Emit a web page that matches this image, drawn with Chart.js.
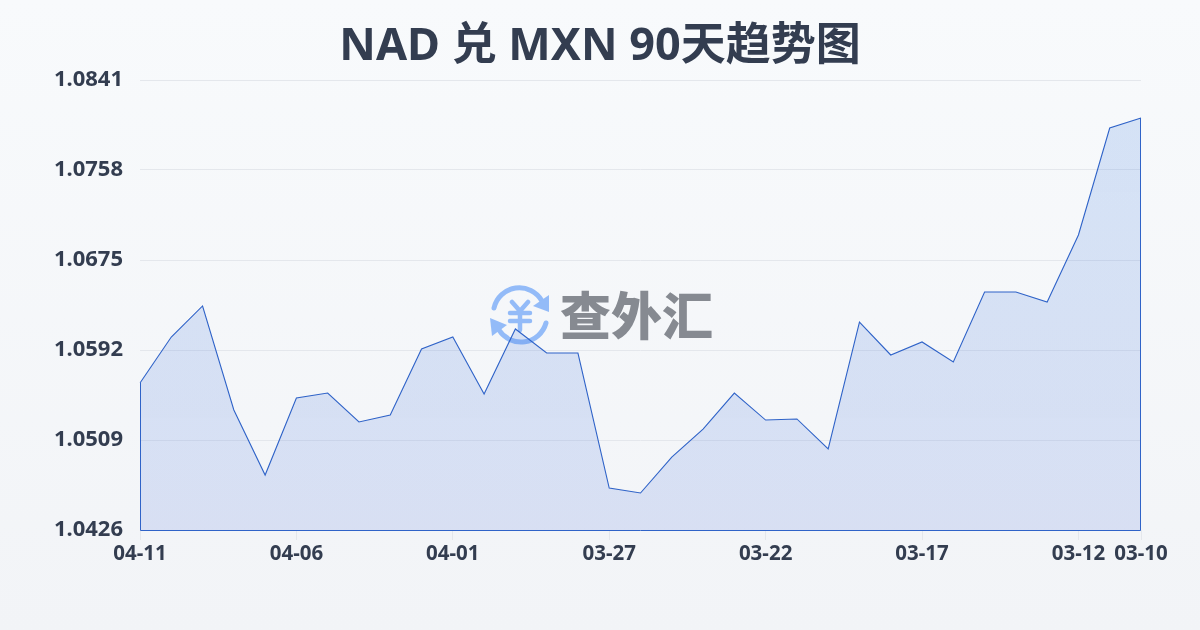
<!DOCTYPE html>
<html>
<head>
<meta charset="utf-8">
<title>NAD 兑 MXN 90天趋势图</title>
<script src="https://cdn.jsdelivr.net/npm/chart.js@4/dist/chart.umd.min.js"></script>
<style>
  html, body { margin: 0; padding: 0; }
  body { width: 1200px; height: 630px; overflow: hidden; position: relative; background: linear-gradient(180deg, #f8fafc 0%, #f2f4f7 100%); }
  #chart { position: absolute; left: 0; top: 0; }
  .mark { position: absolute; left: 488px; top: 283px; display: flex; align-items: center; }
  .mark span { font: 900 51px 'Noto Sans CJK SC', sans-serif; color: #868a91; margin-left: 8px; line-height: 64px; white-space: nowrap; position: relative; top: -2px; }
</style>
</head>
<body>
<div class="mark">
  <svg width="64" height="64" viewBox="-32 -32 64 64" fill="none" stroke="#93bbf8" stroke-width="5" stroke-linecap="round">
    <path d="M-26 -7 A26 26 0 0 1 22 -14"/>
    <path d="M26 8 A26 26 0 0 1 -21 15"/>
    <path d="M29 -20 L29 -3 L13 -9 Z" fill="#93bbf8" stroke="none"/>
    <path d="M-30 3 L-13 10 L-28 21 Z" fill="#93bbf8" stroke="none"/>
    <path d="M-8 -13 L0 -4 L8 -13 M-10 -2 L10 -2 M-10 6 L10 6 M0 -4 L0 15" stroke-width="4.5"/>
  </svg>
  <span>查外汇</span>
</div>
<canvas id="chart" width="1200" height="630"></canvas>
<script>
const dates = ['04-11','04-10','04-09','04-08','04-07','04-06','04-05','04-04','04-03','04-02','04-01',
  '03-31','03-30','03-29','03-28','03-27','03-26','03-25','03-24','03-23','03-22','03-21','03-20','03-19',
  '03-18','03-17','03-16','03-15','03-14','03-13','03-12','03-11','03-10'];
const rates = [1.05616,1.06040,1.06326,1.05367,1.04767,1.05477,1.05523,1.05256,1.05321,1.05929,1.06040,
  1.05514,1.06114,1.05892,1.05892,1.04647,1.04601,1.04933,1.05191,1.05523,1.05274,1.05284,1.05007,1.06178,
  1.05874,1.05994,1.05809,1.06455,1.06455,1.06363,1.06981,1.07967,1.08060];
const shownDates = ['04-11','04-06','04-01','03-27','03-22','03-17','03-12','03-10'];
const yTicks = [1.0426,1.0509,1.0592,1.0675,1.0758,1.0841];

const lineBlue = '#2f63c8';
const textDark = '#333d50';
const gridGrey = '#e4e7ec';
const fontName = "'Noto Sans', 'Noto Sans CJK SC', sans-serif";

// closes the area outline down the two ends and along the bottom
const closeArea = {
  id: 'closeArea',
  // labels are wider than the axis box, stop them being clipped at its left edge
  afterLayout(chart) { chart.scales.y.left = 0; },
  afterDatasetsDraw(chart) {
    const pts = chart.getDatasetMeta(0).data;
    const first = pts[0], last = pts[pts.length - 1];
    const base = chart.scales.y.bottom;
    const ctx = chart.ctx;
    ctx.save();
    ctx.strokeStyle = lineBlue;
    ctx.lineWidth = 1;
    ctx.beginPath();
    ctx.moveTo(first.x + 0.5, first.y);
    ctx.lineTo(first.x + 0.5, base + 0.5);
    ctx.lineTo(last.x - 0.5, base + 0.5);
    ctx.lineTo(last.x - 0.5, last.y);
    ctx.stroke();
    ctx.restore();
  }
};

new Chart(document.getElementById('chart'), {
  type: 'line',
  plugins: [closeArea],
  data: {
    labels: dates,
    datasets: [{
      data: rates,
      borderColor: lineBlue,
      borderWidth: 1.1,
      backgroundColor(c) {
        const area = c.chart.chartArea;
        if (!area) return 'rgba(74,114,218,0.16)';
        const g = c.chart.ctx.createLinearGradient(0, area.top, 0, area.bottom);
        g.addColorStop(0, 'rgba(45,115,225,0.17)');
        g.addColorStop(1, 'rgba(74,114,218,0.16)');
        return g;
      },
      fill: 'start',
      tension: 0,
      pointRadius: 0,
    }],
  },
  options: {
    responsive: false,
    animation: false,
    layout: { padding: { left: 59, right: 59, top: 0, bottom: 0 } },
    plugins: {
      legend: { display: false },
      tooltip: { enabled: false },
      title: {
        display: true,
        text: 'NAD 兑 MXN 90天趋势图',
        color: textDark,
        font: { family: fontName, size: 45, weight: 'bold', lineHeight: 1.2 },
        padding: { top: 20, bottom: 6 },
      },
    },
    scales: {
      x: {
        afterFit(s) { s.height = 100; },
        afterBuildTicks(s) { s.ticks = s.ticks.filter(t => shownDates.includes(dates[t.value])); },
        border: { display: false },
        grid: { drawOnChartArea: false, drawTicks: true, tickLength: 10, tickColor: gridGrey },
        ticks: {
          autoSkip: false, maxRotation: 0, color: textDark, padding: 2,
          font: { family: fontName, size: 20.5, weight: 'bold' },
        },
      },
      y: {
        min: 1.0426,
        max: 1.0841,
        afterFit(s) { s.width = 81; },
        afterBuildTicks(s) { s.ticks = yTicks.map(v => ({ value: v })); },
        border: { display: false },
        grid: { color: gridGrey, drawTicks: false },
        ticks: {
          color: textDark, padding: 17,
          font: { family: fontName, size: 22, weight: 'bold' },
          callback: v => v.toFixed(4),
        },
      },
    },
  },
});
</script>
</body>
</html>
